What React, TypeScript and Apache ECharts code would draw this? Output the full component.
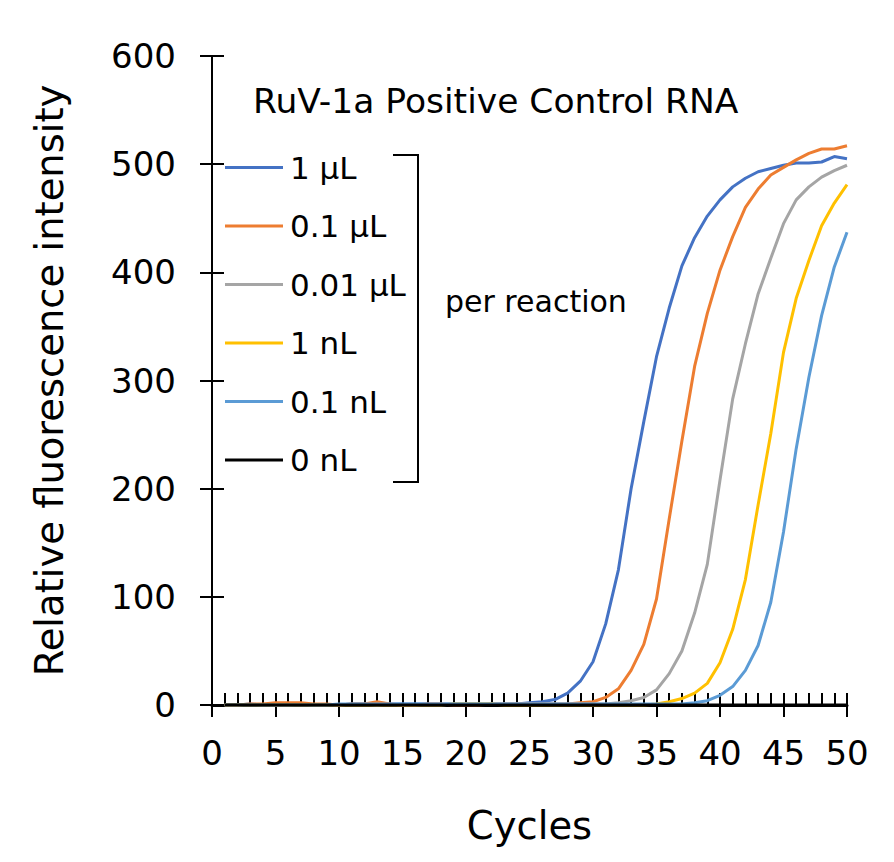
import React, { useEffect, useRef } from "react";
import * as echarts from "echarts";

// Amplification curves: relative fluorescence per PCR cycle
const cycles = [
  1, 2, 3, 4, 5, 6, 7, 8, 9, 10, 11, 12, 13, 14, 15, 16, 17, 18, 19, 20, 21, 22, 23, 24, 25,
  26, 27, 28, 29, 30, 31, 32, 33, 34, 35, 36, 37, 38, 39, 40, 41, 42, 43, 44, 45, 46, 47, 48, 49, 50,
];

const seriesNames = ["1 μL", "0.1 μL", "0.01 μL", "1 nL", "0.1 nL", "0 nL"];
const seriesColors = ["#4472C4", "#ED7D31", "#A5A5A5", "#FFC000", "#5B9BD5", "#000000"];

const rfu1uL = [
  0, 0, 1, 0, 0, 0, 1, 0, 0, 0, 1, 1, 0, 1, 1, 1, 1, 1, 1, 1, 1, 1, 1, 1, 2,
  3, 5, 11, 22, 40, 75, 125, 200, 262, 322, 367, 406, 432, 452, 467, 479, 487, 493, 496, 499, 501, 501, 502, 507, 505,
];
const rfu01uL = [
  0, 0, 1, 1, 2, 2, 2, 1, 1, 0, 1, 1, 3, 1, 0, 0, 1, 1, 0, 0, 0, 1, 1, 1, 1,
  1, 1, 1, 2, 3, 7, 15, 32, 56, 98, 172, 244, 313, 362, 402, 433, 460, 477, 490, 497, 504, 510, 514, 514, 517,
];
const rfu001uL = [
  0, 0, 0, 0, 0, 0, 0, 0, 0, 0, 0, 0, 0, 0, 0, 0, 0, 0, 1, 1, 1, 1, 1, 1, 1,
  1, 1, 1, 1, 1, 1, 2, 4, 7, 14, 29, 50, 85, 130, 208, 283, 334, 380, 413, 445, 467, 479, 488, 494, 499,
];
const rfu1nL = [
  0, 0, 0, 0, 0, 0, 0, 0, 0, 0, 0, 0, 0, 0, 0, 0, 0, 0, 1, 1, 1, 1, 0, 0, 0,
  0, 0, 0, 0, 0, 0, 0, 0, 0, 1, 3, 6, 11, 20, 39, 70, 116, 185, 251, 326, 376, 411, 443, 464, 481,
];
const rfu01nL = [
  0, 0, 0, 0, 0, 0, 0, 0, 0, 1, 1, 1, 1, 1, 1, 1, 1, 1, 1, 1, 1, 1, 1, 1, 1,
  1, 1, 1, 1, 1, 1, 1, 1, 1, 1, 1, 1, 2, 4, 9, 17, 32, 55, 95, 160, 237, 303, 360, 405, 437,
];
const rfu0nL = [
  0, 0, 0, 0, 0, 0, 0, 0, 0, 0, 0, 0, 0, 0, 0, 0, 0, 0, 0, 0, 0, 0, 0, 0, 0,
  0, 0, 0, 0, 0, 0, 0, 0, 0, 0, 0, 0, 0, 0, 0, 0, 0, 0, 0, 0, 0, 0, 0, 0, 0,
];
const seriesValues = [rfu1uL, rfu01uL, rfu001uL, rfu1nL, rfu01nL, rfu0nL];

const FONT = "DejaVu Sans";

export default function App() {
  const ref = useRef<HTMLDivElement>(null);

  useEffect(() => {
    if (!ref.current) return;
    const chart = echarts.init(ref.current, null, { renderer: "svg" });

    const series = seriesNames.map((name, i) => ({
      name,
      type: "line",
      xAxisIndex: 0,
      yAxisIndex: 0,
      showSymbol: false,
      symbol: "none",
      data: cycles.map((c, k) => [c, seriesValues[i][k]]),
      lineStyle: { color: seriesColors[i], width: 3 },
      itemStyle: { color: seriesColors[i] },
    }));

    chart.setOption({
      animation: false,
      backgroundColor: "#ffffff",
      textStyle: { fontFamily: FONT },
      grid: { left: 212, right: 47, top: 56, bottom: 157 },
      xAxis: [
        {
          type: "value",
          position: "bottom",
          min: 0,
          max: 50,
          interval: 5,
          name: "Cycles",
          nameLocation: "middle",
          nameGap: 101,
          nameTextStyle: { fontSize: 38.5, color: "#000", fontFamily: FONT },
          axisLine: { show: true, lineStyle: { color: "#000", width: 3 } },
          axisTick: { show: true, inside: false, length: 12, lineStyle: { color: "#000", width: 2 } },
          axisLabel: { fontSize: 34, color: "#000", margin: 31, fontFamily: FONT },
          splitLine: { show: false },
        },
        {
          type: "value",
          position: "bottom",
          min: 0,
          max: 50,
          interval: 1,
          axisLine: { show: false },
          axisTick: { show: true, inside: true, length: 12, lineStyle: { color: "#000", width: 2 } },
          axisLabel: { show: false },
          splitLine: { show: false },
        },
      ],
      yAxis: [
        {
          type: "value",
          position: "left",
          min: 0,
          max: 600,
          interval: 100,
          name: "Relative fluorescence intensity",
          nameLocation: "middle",
          nameGap: 143,
          nameTextStyle: { fontSize: 38.5, color: "#000", fontFamily: FONT },
          axisLine: { show: true, lineStyle: { color: "#000", width: 2 } },
          axisTick: { show: true, inside: false, length: 12, lineStyle: { color: "#000", width: 2 } },
          axisLabel: { fontSize: 34, color: "#000", margin: 36, fontFamily: FONT },
          splitLine: { show: false },
        },
        {
          type: "value",
          position: "left",
          min: 0,
          max: 600,
          interval: 100,
          axisLine: { show: false },
          axisTick: { show: true, inside: true, length: 12, lineStyle: { color: "#000", width: 2 } },
          axisLabel: { show: false },
          splitLine: { show: false },
        },
      ],
      legend: {
        orient: "vertical",
        left: 225,
        top: 152,
        padding: 0,
        icon: "rect",
        itemWidth: 58,
        itemHeight: 3,
        itemGap: 27.5,
        data: seriesNames,
        textStyle: { fontSize: 31, color: "#000", lineHeight: 30, fontFamily: FONT, padding: [0, 0, 0, 2] },
      },
      graphic: [
        {
          type: "text",
          left: 253,
          top: 83,
          style: { text: "RuV-1a Positive Control RNA", font: `34.5px "${FONT}"`, fill: "#000" },
        },
        {
          type: "text",
          left: 445,
          top: 286,
          style: { text: "per reaction", font: `30px "${FONT}"`, fill: "#000" },
        },
        {
          type: "polyline",
          shape: { points: [[393, 155], [418, 155], [418, 482], [393, 482]] },
          style: { stroke: "#000", lineWidth: 2, fill: "none" },
        },
      ],
      series,
    });

    return () => chart.dispose();
  }, []);

  return (
    <div
      ref={ref}
      style={{ position: "fixed", left: 0, top: 0, width: 894, height: 862, background: "#fff" }}
    />
  );
}
